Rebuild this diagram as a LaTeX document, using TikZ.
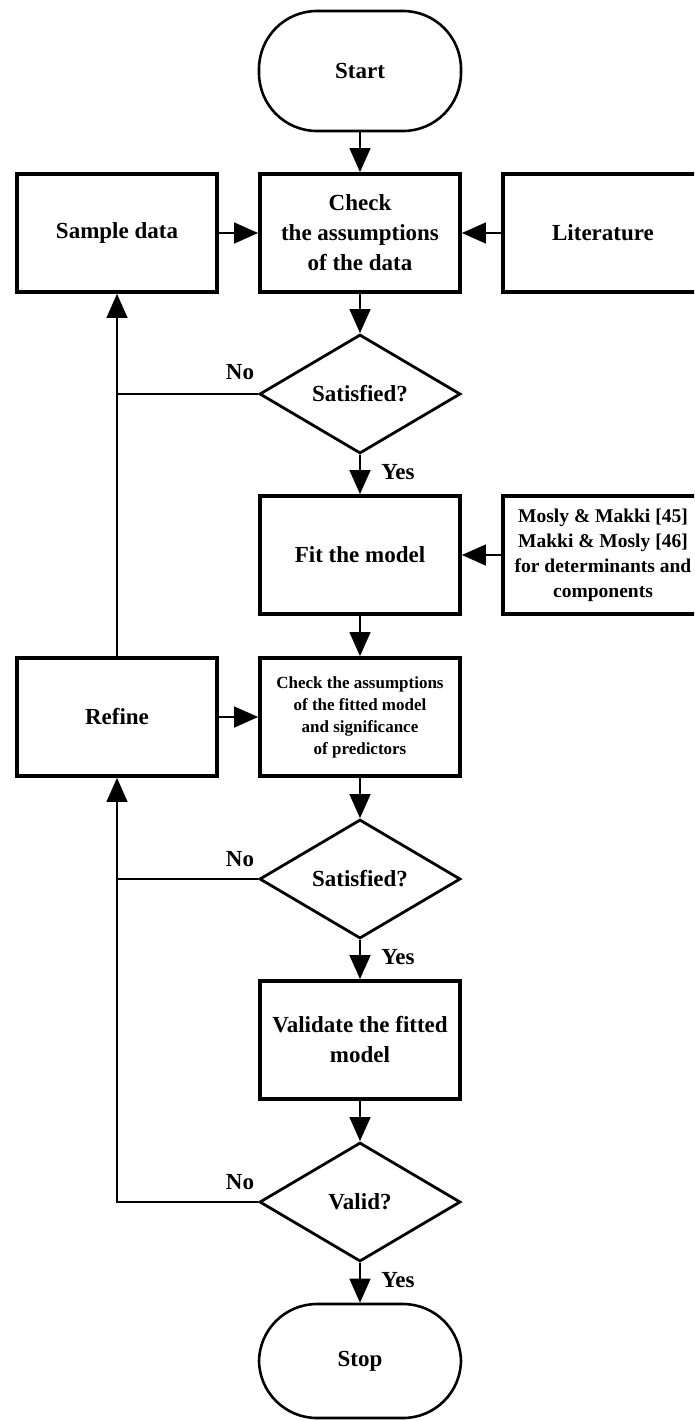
\documentclass[tikz,border=0pt]{standalone}
\usepackage{fontspec}
\setmainfont{Liberation Serif}
\usetikzlibrary{shapes.geometric,arrows.meta}
\begin{document}
\begin{tikzpicture}[x=1pt,y=-1pt,
  mainfont/.style={font=\fontsize{23}{30}\selectfont\bfseries},
  box/.style={draw,line width=3.8pt,minimum width=200pt,minimum height=118pt,inner sep=0pt,align=center,mainfont},
  term/.style={draw,line width=2.6pt,rounded corners=58pt,minimum width=202pt,inner sep=0pt,mainfont},
  dec/.style={diamond,draw,line width=2.8pt,minimum width=201pt,minimum height=119pt,inner sep=0pt,mainfont},
  conn/.style={line width=1.4pt},
  arr/.style={conn,-{Triangle[length=24pt,width=21pt]}},
  lbl/.style={mainfont}]
\useasboundingbox (0,0) rectangle (694,1421);
\clip (0,0) rectangle (694,1421);
\node[term,minimum height=120pt] (start) at (360,71) {Start};
\node[box] (sample) at (117,233) {Sample data};
\node[box] (check1) at (360,233) {Check\\the assumptions\\of the data};
\node[box] (lit) at (603,233) {Literature};
\node[dec] (d1) at (360,394) {Satisfied?};
\node[box] (fit) at (360,555) {Fit the model};
\node[box,font=\fontsize{19.5}{25}\selectfont\bfseries] (mosly) at (603,555) {Mosly \& Makki [45]\\Makki \& Mosly [46]\\for determinants and\\components};
\node[box] (refine) at (117,717) {Refine};
\node[box,font=\fontsize{17}{22}\selectfont\bfseries] (check2) at (360,717) {Check the assumptions\\of the fitted model\\and significance\\of predictors};
\node[dec] (d2) at (360,879) {Satisfied?};
\node[box] (valid) at (360,1040) {Validate the fitted\\model};
\node[dec] (d3) at (360,1202) {Valid?};
\node[term,minimum height=114pt] (stop) at (360,1361) {Stop};

\coordinate (j1) at (d1.west -| sample.south);
\coordinate (j3) at (d3.west -| refine.south);

\draw[arr] (start) -- (check1);
\draw[arr] (sample) -- (check1);
\draw[arr] (lit) -- (check1);
\draw[arr] (check1) -- (d1);
\draw[arr] (d1) -- (fit);
\draw[arr] (mosly) -- (fit);
\draw[arr] (fit) -- (check2);
\draw[arr] (refine) -- (check2);
\draw[arr] (refine.north) -- (sample.south);
\draw[conn] (d1.west) -- (j1);
\draw[arr] (check2) -- (d2);
\draw[arr] (d2.west) -| (refine.south);
\draw[arr] (d2) -- (valid);
\draw[arr] (valid) -- (d3);
\draw[conn] (d3.west) -- (j3) -- (d2.west -| refine.south);
\draw[arr] (d3) -- (stop);

\node[lbl] (no1) at (240,372) {No};
\node[lbl] (yes1) at (398,472) {Yes};
\node[lbl] (no2) at (240,859) {No};
\node[lbl] (yes2) at (398,957) {Yes};
\node[lbl] (no3) at (240,1182) {No};
\node[lbl] (yes3) at (398,1280) {Yes};
\end{tikzpicture}
\end{document}
